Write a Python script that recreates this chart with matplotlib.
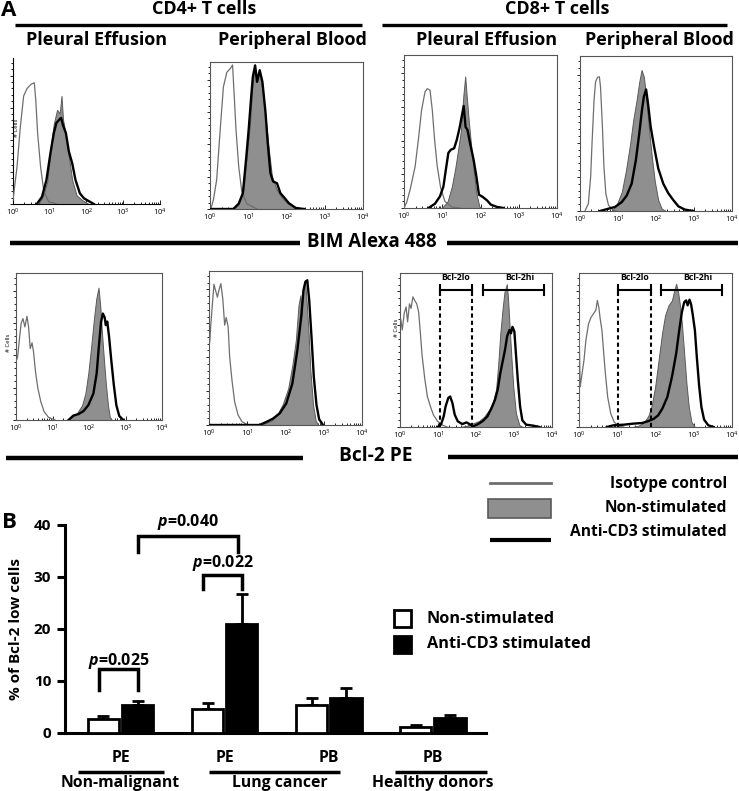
import numpy as np
import matplotlib
matplotlib.use('Agg')
import matplotlib.pyplot as plt
from matplotlib.lines import Line2D
from matplotlib.patches import Rectangle
from matplotlib.ticker import MultipleLocator, LogLocator, NullFormatter

plt.rcParams['font.family'] = ['Open Sans', 'DejaVu Sans']
plt.rcParams['mathtext.fontset'] = 'custom'
plt.rcParams['mathtext.bfit'] = 'Open Sans:italic:bold'
plt.rcParams['mathtext.rm'] = 'Open Sans'

# ---- panel A : histograms, (log10 intensity, relative count)
# CD4 pleural effusion, BIM
cd4_pe_bim_iso = [(0, 0.027), (0.11, 0.256), (0.2, 0.53), (0.29, 0.74), (0.38, 0.79), (0.49, 0.82),
                  (0.58, 0.83), (0.62, 0.71), (0.67, 0.485), (0.75, 0.256), (0.84, 0.085), (0.97, 0.016), (1.2, 0)]
cd4_pe_bim_non = [(0.7, 0), (0.82, 0.06), (0.93, 0.15), (1.02, 0.37), (1.11, 0.55), (1.2, 0.645), (1.27, 0.62),
                  (1.32, 0.74), (1.36, 0.58), (1.43, 0.485), (1.52, 0.325), (1.61, 0.165), (1.73, 0.06),
                  (1.88, 0.027), (2.06, 0)]
cd4_pe_bim_stim = [(0.65, 0), (0.79, 0.05), (0.91, 0.165), (1.02, 0.35), (1.11, 0.485), (1.18, 0.555),
                   (1.25, 0.575), (1.31, 0.59), (1.36, 0.54), (1.44, 0.485), (1.52, 0.36), (1.61, 0.28),
                   (1.7, 0.165), (1.82, 0.073), (1.93, 0.039), (2.04, 0.023), (2.2, 0)]
# CD4 peripheral blood, BIM
cd4_pb_bim_iso = [(0.02, 0), (0.09, 0.063), (0.175, 0.2), (0.26, 0.515), (0.35, 0.83), (0.44, 0.93), (0.53, 0.955),
                  (0.59, 0.98), (0.63, 0.785), (0.68, 0.54), (0.75, 0.29), (0.83, 0.12), (0.96, 0.036), (1.23, 0)]
cd4_pb_bim_non = [(0.61, 0), (0.75, 0.036), (0.88, 0.14), (0.96, 0.36), (1.04, 0.56), (1.1, 0.81), (1.16, 0.966),
                  (1.21, 0.89), (1.3, 0.93), (1.37, 0.81), (1.45, 0.63), (1.54, 0.40), (1.62, 0.22), (1.75, 0.13),
                  (1.89, 0.075), (2.02, 0.04), (2.37, 0)]
cd4_pb_bim_stim = [(0, 0), (0.61, 0), (0.75, 0.036), (0.86, 0.108), (0.95, 0.357), (1.01, 0.537), (1.07, 0.74),
                   (1.12, 0.9), (1.18, 0.977), (1.23, 0.865), (1.3, 0.944), (1.37, 0.865), (1.45, 0.66),
                   (1.51, 0.447), (1.58, 0.244), (1.65, 0.187), (1.75, 0.176), (1.84, 0.108), (1.95, 0.075),
                   (2.06, 0.04), (2.24, 0.007), (2.46, 0)]
# CD8 pleural effusion, BIM
cd8_pe_bim_iso = [(0, 0), (0.07, 0.037), (0.16, 0.12), (0.29, 0.27), (0.375, 0.445), (0.46, 0.64), (0.55, 0.76),
                  (0.61, 0.78), (0.68, 0.77), (0.74, 0.64), (0.8, 0.445), (0.87, 0.27), (0.96, 0.13),
                  (1.07, 0.043), (1.25, 0.007), (1.47, 0)]
cd8_pe_bim_non = [(0.99, 0), (1.14, 0.043), (1.25, 0.14), (1.34, 0.26), (1.42, 0.39), (1.49, 0.51), (1.55, 0.73),
                  (1.6, 0.86), (1.64, 0.73), (1.69, 0.576), (1.75, 0.42), (1.82, 0.25), (1.89, 0.098),
                  (1.97, 0.01), (2.03, 0)]
cd8_pe_bim_stim = [(0.64, 0), (0.81, 0.028), (0.94, 0.076), (1.03, 0.14), (1.1, 0.26), (1.16, 0.36), (1.22, 0.38),
                   (1.31, 0.39), (1.38, 0.445), (1.45, 0.52), (1.51, 0.6), (1.56, 0.667), (1.61, 0.53),
                   (1.66, 0.51), (1.73, 0.42), (1.82, 0.315), (1.89, 0.21), (1.96, 0.087), (2.06, 0.072),
                   (2.17, 0.05), (2.27, 0.022), (2.43, 0.007), (2.6, 0)]
# CD8 peripheral blood, BIM
cd8_pb_bim_iso = [(0.13, 0), (0.22, 0.047), (0.28, 0.22), (0.32, 0.457), (0.37, 0.716), (0.41, 0.834),
                  (0.46, 0.862), (0.51, 0.866), (0.54, 0.8), (0.59, 0.543), (0.63, 0.284), (0.68, 0.112),
                  (0.75, 0.037), (0.88, 0.004), (0.96, 0)]
cd8_pb_bim_non = [(0.83, 0), (0.96, 0.037), (1.1, 0.123), (1.21, 0.263), (1.32, 0.435), (1.4, 0.586),
                  (1.49, 0.716), (1.56, 0.834), (1.62, 0.91), (1.68, 0.866), (1.74, 0.737), (1.81, 0.543),
                  (1.89, 0.35), (1.97, 0.188), (2.06, 0.069), (2.15, 0.015), (2.26, 0)]
cd8_pb_bim_stim = [(0.53, 0), (0.75, 0.015), (0.92, 0.026), (1.1, 0.058), (1.23, 0.1), (1.36, 0.177),
                   (1.47, 0.328), (1.56, 0.5), (1.63, 0.65), (1.68, 0.737), (1.74, 0.784), (1.79, 0.694),
                   (1.86, 0.543), (1.95, 0.414), (2.06, 0.274), (2.19, 0.177), (2.32, 0.116), (2.46, 0.069),
                   (2.59, 0.03), (2.76, 0.009), (2.98, 0)]
# CD4 pleural effusion, Bcl-2
cd4_pe_bcl_iso = [(0, 0.396), (0.045, 0.43), (0.09, 0.54), (0.14, 0.656), (0.19, 0.69), (0.245, 0.633),
                  (0.3, 0.706), (0.345, 0.633), (0.39, 0.486), (0.44, 0.525), (0.48, 0.464), (0.54, 0.317),
                  (0.6, 0.215), (0.68, 0.124), (0.77, 0.057), (0.89, 0.018), (1.07, 0)]
cd4_pe_bcl_non = [(1.39, 0), (1.53, 0.018), (1.68, 0.05), (1.81, 0.1), (1.9, 0.18), (1.98, 0.317), (2.06, 0.5),
                  (2.14, 0.7), (2.2, 0.826), (2.26, 0.9), (2.31, 0.77), (2.35, 0.61), (2.41, 0.407),
                  (2.46, 0.25), (2.52, 0.1), (2.57, 0.018), (2.63, 0)]
cd4_pe_bcl_stim = [(1.44, 0), (1.57, 0.03), (1.71, 0.04), (1.85, 0.061), (1.98, 0.1), (2.12, 0.18), (2.21, 0.317),
                   (2.27, 0.5), (2.33, 0.667), (2.38, 0.724), (2.43, 0.697), (2.46, 0.645), (2.5, 0.67),
                   (2.55, 0.566), (2.61, 0.407), (2.68, 0.238), (2.75, 0.1), (2.83, 0.027), (2.94, 0)]
# CD4 peripheral blood, Bcl-2
cd4_pb_bcl_iso = [(0.02, 0.54), (0.05, 0.66), (0.09, 0.79), (0.13, 0.914), (0.17, 0.875), (0.22, 0.83),
                  (0.26, 0.875), (0.31, 0.918), (0.36, 0.82), (0.41, 0.648), (0.45, 0.698), (0.5, 0.637),
                  (0.54, 0.443), (0.6, 0.292), (0.67, 0.151), (0.76, 0.065), (0.86, 0.022), (1.02, 0)]
cd4_pb_bcl_non = [(1.28, 0), (1.46, 0.011), (1.63, 0.028), (1.78, 0.065), (1.93, 0.136), (2.07, 0.238),
                  (2.18, 0.389), (2.27, 0.55), (2.34, 0.778), (2.39, 0.842), (2.42, 0.713), (2.46, 0.885),
                  (2.51, 0.94), (2.55, 0.81), (2.6, 0.616), (2.65, 0.356), (2.72, 0.13), (2.79, 0.028), (2.86, 0)]
cd4_pb_bcl_stim = [(0, 0), (1.32, 0), (1.5, 0.02), (1.67, 0.041), (1.85, 0.076), (2.02, 0.14), (2.18, 0.27),
                   (2.31, 0.486), (2.41, 0.7), (2.47, 0.875), (2.52, 0.93), (2.57, 0.94), (2.62, 0.81),
                   (2.68, 0.572), (2.74, 0.313), (2.81, 0.13), (2.88, 0.037), (2.98, 0)]
# CD8 pleural effusion, Bcl-2
cd8_pe_bcl_iso = [(0.02, 0.7), (0.06, 0.63), (0.11, 0.737), (0.16, 0.78), (0.2, 0.683), (0.25, 0.8),
                  (0.29, 0.77), (0.34, 0.845), (0.39, 0.82), (0.44, 0.8), (0.49, 0.748), (0.53, 0.63),
                  (0.58, 0.468), (0.65, 0.317), (0.72, 0.198), (0.8, 0.134), (0.88, 0.078), (0.99, 0.037),
                  (1.11, 0.013), (1.24, 0)]
cd8_pe_bcl_non = [(1.59, 0), (1.77, 0.009), (1.95, 0.026), (2.08, 0.039), (2.21, 0.065), (2.35, 0.112),
                  (2.45, 0.166), (2.53, 0.246), (2.58, 0.392), (2.64, 0.608), (2.7, 0.77), (2.75, 0.877),
                  (2.81, 0.927), (2.84, 0.845), (2.88, 0.672), (2.93, 0.457), (2.98, 0.263), (3.05, 0.09),
                  (3.14, 0.013), (3.23, 0)]
cd8_pe_bcl_stim = [(0.99, 0), (1.08, 0.017), (1.15, 0.069), (1.2, 0.134), (1.27, 0.188), (1.32, 0.198),
                   (1.38, 0.155), (1.44, 0.08), (1.52, 0.037), (1.64, 0.019), (1.75, 0.03), (1.84, 0.017),
                   (1.93, 0.004), (2.04, 0.017), (2.17, 0.037), (2.3, 0.069), (2.41, 0.123), (2.5, 0.177),
                   (2.57, 0.241), (2.64, 0.35), (2.71, 0.435), (2.77, 0.51), (2.82, 0.59), (2.88, 0.63),
                   (2.92, 0.608), (2.96, 0.65), (3.01, 0.62), (3.05, 0.478), (3.1, 0.306), (3.16, 0.134),
                   (3.22, 0.043), (3.32, 0.015), (3.5, 0.009), (3.67, 0)]
# CD8 peripheral blood, Bcl-2
cd8_pb_bcl_iso = [(0, 0), (0, 0.67), (0.03, 0.26), (0.08, 0.346), (0.13, 0.433), (0.18, 0.563), (0.25, 0.67),
                  (0.31, 0.71), (0.38, 0.736), (0.44, 0.758), (0.48, 0.822), (0.52, 0.775), (0.55, 0.71),
                  (0.6, 0.628), (0.64, 0.498), (0.69, 0.346), (0.75, 0.195), (0.83, 0.087), (0.92, 0.032),
                  (1.04, 0.006), (1.17, 0)]
cd8_pb_bcl_non = [(1.39, 0), (1.56, 0.009), (1.71, 0.032), (1.82, 0.076), (1.9, 0.14), (1.99, 0.26),
                  (2.08, 0.433), (2.17, 0.606), (2.25, 0.725), (2.34, 0.79), (2.43, 0.822), (2.49, 0.887),
                  (2.54, 0.93), (2.59, 0.877), (2.64, 0.79), (2.69, 0.67), (2.75, 0.476), (2.81, 0.28),
                  (2.87, 0.13), (2.94, 0.032), (3.03, 0)]
cd8_pb_bcl_stim = [(0.73, 0), (0.9, 0.011), (1.17, 0.015), (1.43, 0.022), (1.65, 0.026), (1.82, 0.039),
                   (1.96, 0.054), (2.07, 0.076), (2.18, 0.12), (2.31, 0.195), (2.43, 0.325), (2.54, 0.476),
                   (2.62, 0.628), (2.69, 0.747), (2.75, 0.81), (2.8, 0.822), (2.84, 0.79), (2.89, 0.827),
                   (2.93, 0.797), (2.97, 0.736), (3.03, 0.628), (3.08, 0.455), (3.14, 0.27), (3.2, 0.13),
                   (3.27, 0.048), (3.38, 0.011), (3.52, 0)]

# gates (log10 limits) for the CD8 Bcl-2 panels
cd8_pe_gate_lo = (1.04, 1.9)
cd8_pe_gate_hi = (2.19, 3.79)
cd8_pb_gate_lo = (1.02, 1.87)
cd8_pb_gate_hi = (2.15, 3.73)

# ---- panel B : % of Bcl-2 low cells
groups = ['PE', 'PE', 'PB', 'PB']
group_names = ['Non-malignant', 'Lung cancer', 'Healthy donors']
non_mean = [2.7, 4.7, 5.4, 1.2]
non_err = [0.5, 1.1, 1.3, 0.4]
stim_mean = [5.4, 21.0, 6.8, 2.9]
stim_err = [0.7, 5.8, 1.9, 0.6]

W, H = 739, 791
fig = plt.figure(figsize=(W / 100, H / 100), dpi=100)


def px_axes(l, t, r, b):
    return fig.add_axes([l / W, 1 - b / H, (r - l) / W, (b - t) / H])


def ftxt(x, y, s, **kw):
    fig.text(x / W, 1 - y / H, s, **kw)


def hline(x0, x1, y, lw, color='k'):
    fig.add_artist(Line2D([x0 / W, x1 / W], [1 - y / H, 1 - y / H], lw=lw, color=color,
                          solid_capstyle='butt'))


def histo(box, iso, non, stim, frame=True, gates=None):
    ax = px_axes(*box)
    nx, ny = np.array(non).T
    ax.fill_between(10 ** nx, ny, color='#8f8f8f', edgecolor='#5a5a5a', lw=0.7, zorder=2)
    ix, iy = np.array(iso).T
    ax.plot(10 ** ix, iy, color='#6e6e6e', lw=0.9, zorder=3)
    sx, sy = np.array(stim).T
    ax.plot(10 ** sx, sy, color='k', lw=1.7, zorder=4)
    ax.set_xscale('log')
    ax.set_xlim(1, 1e4)
    ax.set_ylim(0, 1)
    ax.xaxis.set_major_locator(LogLocator(base=10, numticks=5))
    ax.xaxis.set_minor_locator(LogLocator(base=10, subs=np.arange(2, 10), numticks=10))
    ax.xaxis.set_minor_formatter(NullFormatter())
    ax.yaxis.set_major_locator(MultipleLocator(0.22))
    ax.yaxis.set_minor_locator(MultipleLocator(0.044))
    ax.set_yticklabels([])
    ax.tick_params(axis='x', which='both', direction='in', labelsize=5.5, pad=2, width=0.6)
    ax.tick_params(axis='x', which='major', length=3)
    ax.tick_params(axis='x', which='minor', length=1.5)
    ax.tick_params(axis='y', which='both', direction='out', width=0.6)
    ax.tick_params(axis='y', which='major', length=2.5)
    ax.tick_params(axis='y', which='minor', length=1.2)
    for s in ax.spines.values():
        s.set_color('#555555')
        s.set_linewidth(0.8)
    if not frame:
        ax.spines['top'].set_visible(False)
        ax.spines['right'].set_visible(False)
        ax.spines['left'].set_color('k')
        ax.spines['bottom'].set_color('k')
    if gates is not None:
        lo, hi = gates
        gy = 0.89
        for g in lo:
            ax.plot([10 ** g, 10 ** g], [0, gy], color='k', lw=1.5, ls=(0, (2, 1.5)), zorder=5)
        for g0, g1 in (lo, hi):
            ax.plot([10 ** g0, 10 ** g1], [gy, gy], color='k', lw=1.5, zorder=5)
            for g in (g0, g1):
                ax.plot([10 ** g, 10 ** g], [gy - 0.035, gy + 0.035], color='k', lw=1.5, zorder=5)
        ax.text(10 ** np.mean(lo), 0.94, 'Bcl-2lo', ha='center', va='bottom', fontsize=6.3,
                fontweight='bold')
        ax.text(10 ** (hi[0] + 0.6 * (hi[1] - hi[0])), 0.94, 'Bcl-2hi', ha='center', va='bottom',
                fontsize=6.3, fontweight='bold')
    return ax


histo((13, 58, 160, 204), cd4_pe_bim_iso, cd4_pe_bim_non, cd4_pe_bim_stim, frame=False)
histo((210, 62, 363, 209), cd4_pb_bim_iso, cd4_pb_bim_non, cd4_pb_bim_stim)
histo((404, 55, 557, 208), cd8_pe_bim_iso, cd8_pe_bim_non, cd8_pe_bim_stim)
histo((580, 56, 732, 211), cd8_pb_bim_iso, cd8_pb_bim_non, cd8_pb_bim_stim)
histo((16, 273, 162, 420), cd4_pe_bcl_iso, cd4_pe_bcl_non, cd4_pe_bcl_stim)
histo((209, 271, 362, 425), cd4_pb_bcl_iso, cd4_pb_bcl_non, cd4_pb_bcl_stim)
histo((400, 273, 552, 427), cd8_pe_bcl_iso, cd8_pe_bcl_non, cd8_pe_bcl_stim,
      gates=(cd8_pe_gate_lo, cd8_pe_gate_hi))
histo((579, 273, 732, 427), cd8_pb_bcl_iso, cd8_pb_bcl_non, cd8_pb_bcl_stim,
      gates=(cd8_pb_gate_lo, cd8_pb_gate_hi))

for (x, y) in [(17, 128), (9, 343), (396, 328)]:
    ftxt(x, y, '# Cells', rotation=90, fontsize=4.3, ha='center', va='center')

# headings of panel A
ftxt(9, 10, 'A', fontsize=16, fontweight='bold', ha='center', va='center')
ftxt(204, 9, 'CD4+ T cells', fontsize=13, fontweight='bold', ha='center', va='center')
ftxt(557, 9, 'CD8+ T cells', fontsize=13, fontweight='bold', ha='center', va='center')
hline(15, 362, 25, 2.4)
hline(382, 727, 25, 2.4)
for x, s in [(97, 'Pleural Effusion'), (292, 'Peripheral Blood'),
             (487, 'Pleural Effusion'), (659, 'Peripheral Blood')]:
    ftxt(x, 40, s, fontsize=13, fontweight='bold', ha='center', va='center')

ftxt(372, 242, 'BIM Alexa 488', fontsize=13.5, fontweight='bold', ha='center', va='center')
hline(10, 300, 243, 3.2)
hline(447, 738, 243, 3.2)
ftxt(376, 456, 'Bcl-2 PE', fontsize=13.8, fontweight='bold', ha='center', va='center')
hline(6, 303, 458, 3.2)
hline(448, 738, 457, 3.2)

# legend of panel A
fig.add_artist(Line2D([490 / W, 551 / W], [1 - 483 / H] * 2, color='#6e6e6e', lw=2))
fig.add_artist(Rectangle((488 / W, 1 - 518 / H), 63 / W, 19 / H, transform=fig.transFigure,
                         facecolor='#8f8f8f', edgecolor='#5a5a5a', lw=1.2))
fig.add_artist(Line2D([490 / W, 551 / W], [1 - 540 / H] * 2, color='k', lw=3, solid_capstyle='butt'))
for y, s in [(484, 'Isotype control'), (508, 'Non-stimulated'), (532, 'Anti-CD3 stimulated')]:
    ftxt(727, y, s, fontsize=11.2, fontweight='bold', ha='right', va='center')

# ---- panel B
axb = px_axes(65, 525, 486, 733)
pos = np.arange(len(groups))
bw = 0.3
off = 0.165
axb.bar(pos - off, non_mean, bw, color='white', edgecolor='k', lw=2, zorder=3)
axb.bar(pos + off, stim_mean, bw, color='k', edgecolor='k', lw=2, zorder=3)
axb.errorbar(pos - off, non_mean, yerr=[np.zeros(len(pos)), non_err], fmt='none', ecolor='k',
             elinewidth=2, capsize=4.3, capthick=2, zorder=2)
axb.errorbar(pos + off, stim_mean, yerr=[np.zeros(len(pos)), stim_err], fmt='none', ecolor='k',
             elinewidth=2, capsize=4.3, capthick=2, zorder=2)
axb.set_xlim(-0.534, 3.51)
axb.set_ylim(0, 40)
axb.set_yticks([0, 10, 20, 30, 40])
axb.set_xticks([])
axb.spines['top'].set_visible(False)
axb.spines['right'].set_visible(False)
axb.spines['left'].set_linewidth(2.2)
axb.spines['bottom'].set_linewidth(2.2)
axb.tick_params(axis='y', direction='out', length=6, width=2.2, labelsize=11, pad=4)
for lab in axb.get_yticklabels():
    lab.set_fontweight('bold')
axb.set_ylabel('% of Bcl-2 low cells', fontsize=11, fontweight='bold', labelpad=8)

# significance brackets
brackets = [(0 - off - 0.04, 0 + off, 8.3, 12.3, 13.9, 'p=0.025'),
            (1 - off - 0.04, 1 + off, 27.6, 30.3, 32.7, 'p=0.022'),
            (0 + off, 1 + off - 0.04, 34.9, 37.8, 40.5, 'p=0.040')]
for x0, x1, leg, top, ty, lab in brackets:
    axb.plot([x0, x0, x1, x1], [leg, top, top, leg], color='k', lw=2.5, clip_on=False,
             solid_joinstyle='miter')
    axb.text((x0 + x1) / 2, ty, r'$\mathbfit{p}$' + lab[1:], ha='center', va='center', fontsize=11.5,
             fontweight='bold', clip_on=False)

# category labels under the bars
tb = axb.get_xaxis_transform()
for p, g in zip(pos, groups):
    axb.text(p, -0.12, g, transform=tb, ha='center', va='center', fontsize=11.3, fontweight='bold')
spans = [(-0.41, 0.42, 0), (0.85, 2.11, 1.53), (2.64, 3.52, 3)]
for (a, b, c), name in zip(spans, group_names):
    axb.plot([a, b], [-0.188, -0.188], transform=tb, color='k', lw=2.5, clip_on=False,
             solid_capstyle='butt')
    axb.text(c, -0.24, name, transform=tb, ha='center', va='center', fontsize=11.3, fontweight='bold')

ftxt(9, 523, 'B', fontsize=16, fontweight='bold', ha='center', va='center')

# legend of panel B
fig.add_artist(Rectangle((394 / W, 1 - 627 / H), 17 / W, 17 / H, transform=fig.transFigure,
                         facecolor='white', edgecolor='k', lw=2))
fig.add_artist(Rectangle((394 / W, 1 - 653 / H), 17 / W, 17 / H, transform=fig.transFigure,
                         facecolor='k', edgecolor='k', lw=2))
ftxt(427, 619, 'Non-stimulated', fontsize=11.7, fontweight='bold', ha='left', va='center')
ftxt(427, 644, 'Anti-CD3 stimulated', fontsize=11.7, fontweight='bold', ha='left', va='center')

fig.savefig('out.png', dpi=100)
